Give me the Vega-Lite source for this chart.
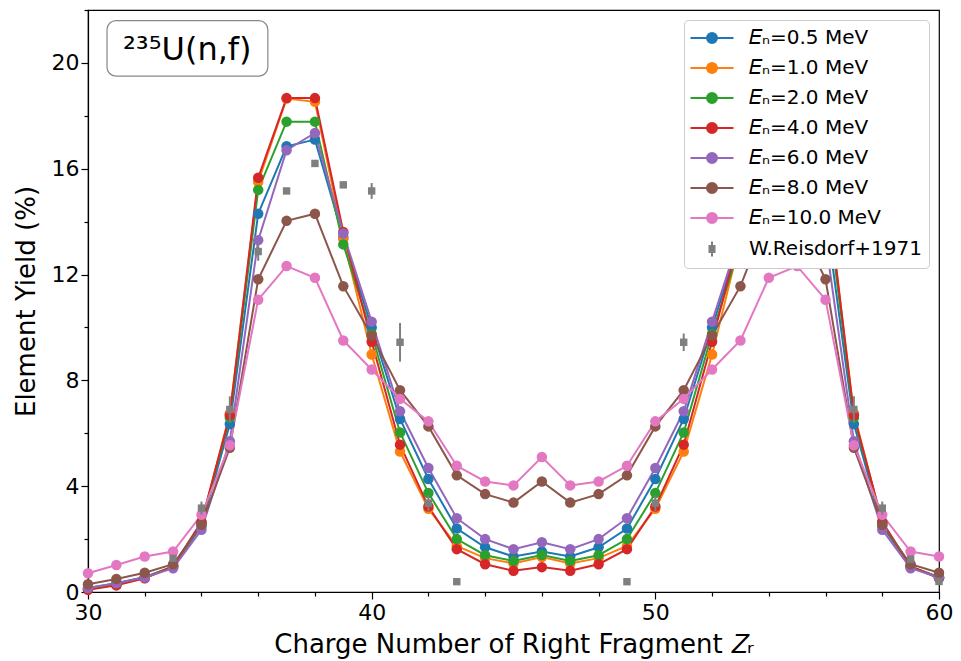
{
  "$schema": "https://vega.github.io/schema/vega-lite/v6.json",
  "width": 851,
  "height": 582,
  "autosize": {"type": "none"},
  "padding": {"left": 88, "top": 10, "right": 22, "bottom": 69},
  "config": {
    "font": "DejaVu Sans",
    "view": {"stroke": "#000", "strokeWidth": 1.2},
    "axis": {"grid": false, "domainColor": "#000", "tickColor": "#000", "labelColor": "#000", "titleColor": "#000", "labelFontSize": 22, "titleFontSize": 26, "titleFontWeight": "normal", "labelFont": "DejaVu Sans", "titleFont": "DejaVu Sans", "tickWidth": 1.2, "domainWidth": 1.2, "labelFlush": false}
  },
  "datasets": {
    "model": [
      {"Z":30,"E":"0.5","y":0.15},{"Z":31,"E":"0.5","y":0.33},{"Z":32,"E":"0.5","y":0.57},{"Z":33,"E":"0.5","y":0.95},{"Z":34,"E":"0.5","y":2.50},{"Z":35,"E":"0.5","y":6.35},{"Z":36,"E":"0.5","y":14.30},{"Z":37,"E":"0.5","y":16.85},{"Z":38,"E":"0.5","y":17.10},{"Z":39,"E":"0.5","y":13.40},{"Z":40,"E":"0.5","y":10.00},{"Z":41,"E":"0.5","y":6.54},{"Z":42,"E":"0.5","y":4.27},{"Z":43,"E":"0.5","y":2.40},{"Z":44,"E":"0.5","y":1.69},{"Z":45,"E":"0.5","y":1.34},{"Z":46,"E":"0.5","y":1.53},{"Z":47,"E":"0.5","y":1.34},{"Z":48,"E":"0.5","y":1.69},{"Z":49,"E":"0.5","y":2.40},{"Z":50,"E":"0.5","y":4.27},{"Z":51,"E":"0.5","y":6.54},{"Z":52,"E":"0.5","y":10.00},{"Z":53,"E":"0.5","y":13.40},{"Z":54,"E":"0.5","y":17.10},{"Z":55,"E":"0.5","y":16.85},{"Z":56,"E":"0.5","y":14.30},{"Z":57,"E":"0.5","y":6.35},{"Z":58,"E":"0.5","y":2.50},{"Z":59,"E":"0.5","y":0.95},{"Z":60,"E":"0.5","y":0.57},
      {"Z":30,"E":"1.0","y":0.10},{"Z":31,"E":"1.0","y":0.27},{"Z":32,"E":"1.0","y":0.53},{"Z":33,"E":"1.0","y":0.97},{"Z":34,"E":"1.0","y":2.60},{"Z":35,"E":"1.0","y":6.75},{"Z":36,"E":"1.0","y":15.50},{"Z":37,"E":"1.0","y":18.65},{"Z":38,"E":"1.0","y":18.53},{"Z":39,"E":"1.0","y":13.35},{"Z":40,"E":"1.0","y":8.98},{"Z":41,"E":"1.0","y":5.31},{"Z":42,"E":"1.0","y":3.15},{"Z":43,"E":"1.0","y":1.74},{"Z":44,"E":"1.0","y":1.28},{"Z":45,"E":"1.0","y":1.08},{"Z":46,"E":"1.0","y":1.32},{"Z":47,"E":"1.0","y":1.08},{"Z":48,"E":"1.0","y":1.28},{"Z":49,"E":"1.0","y":1.74},{"Z":50,"E":"1.0","y":3.15},{"Z":51,"E":"1.0","y":5.31},{"Z":52,"E":"1.0","y":8.98},{"Z":53,"E":"1.0","y":13.35},{"Z":54,"E":"1.0","y":18.53},{"Z":55,"E":"1.0","y":18.65},{"Z":56,"E":"1.0","y":15.50},{"Z":57,"E":"1.0","y":6.75},{"Z":58,"E":"1.0","y":2.60},{"Z":59,"E":"1.0","y":0.97},{"Z":60,"E":"1.0","y":0.53},
      {"Z":30,"E":"2.0","y":0.12},{"Z":31,"E":"2.0","y":0.30},{"Z":32,"E":"2.0","y":0.55},{"Z":33,"E":"2.0","y":0.97},{"Z":34,"E":"2.0","y":2.62},{"Z":35,"E":"2.0","y":6.60},{"Z":36,"E":"2.0","y":15.20},{"Z":37,"E":"2.0","y":17.78},{"Z":38,"E":"2.0","y":17.78},{"Z":39,"E":"2.0","y":13.14},{"Z":40,"E":"2.0","y":9.75},{"Z":41,"E":"2.0","y":6.03},{"Z":42,"E":"2.0","y":3.74},{"Z":43,"E":"2.0","y":2.00},{"Z":44,"E":"2.0","y":1.39},{"Z":45,"E":"2.0","y":1.17},{"Z":46,"E":"2.0","y":1.40},{"Z":47,"E":"2.0","y":1.17},{"Z":48,"E":"2.0","y":1.39},{"Z":49,"E":"2.0","y":2.00},{"Z":50,"E":"2.0","y":3.74},{"Z":51,"E":"2.0","y":6.03},{"Z":52,"E":"2.0","y":9.75},{"Z":53,"E":"2.0","y":13.14},{"Z":54,"E":"2.0","y":17.78},{"Z":55,"E":"2.0","y":17.78},{"Z":56,"E":"2.0","y":15.20},{"Z":57,"E":"2.0","y":6.60},{"Z":58,"E":"2.0","y":2.62},{"Z":59,"E":"2.0","y":0.97},{"Z":60,"E":"2.0","y":0.55},
      {"Z":30,"E":"4.0","y":0.08},{"Z":31,"E":"4.0","y":0.25},{"Z":32,"E":"4.0","y":0.52},{"Z":33,"E":"4.0","y":0.97},{"Z":34,"E":"4.0","y":2.65},{"Z":35,"E":"4.0","y":6.68},{"Z":36,"E":"4.0","y":15.66},{"Z":37,"E":"4.0","y":18.67},{"Z":38,"E":"4.0","y":18.67},{"Z":39,"E":"4.0","y":13.61},{"Z":40,"E":"4.0","y":9.46},{"Z":41,"E":"4.0","y":5.57},{"Z":42,"E":"4.0","y":3.23},{"Z":43,"E":"4.0","y":1.62},{"Z":44,"E":"4.0","y":1.05},{"Z":45,"E":"4.0","y":0.80},{"Z":46,"E":"4.0","y":0.94},{"Z":47,"E":"4.0","y":0.80},{"Z":48,"E":"4.0","y":1.05},{"Z":49,"E":"4.0","y":1.62},{"Z":50,"E":"4.0","y":3.23},{"Z":51,"E":"4.0","y":5.57},{"Z":52,"E":"4.0","y":9.46},{"Z":53,"E":"4.0","y":13.61},{"Z":54,"E":"4.0","y":18.67},{"Z":55,"E":"4.0","y":18.67},{"Z":56,"E":"4.0","y":15.66},{"Z":57,"E":"4.0","y":6.68},{"Z":58,"E":"4.0","y":2.65},{"Z":59,"E":"4.0","y":0.97},{"Z":60,"E":"4.0","y":0.52},
      {"Z":30,"E":"6.0","y":0.15},{"Z":31,"E":"6.0","y":0.33},{"Z":32,"E":"6.0","y":0.55},{"Z":33,"E":"6.0","y":0.90},{"Z":34,"E":"6.0","y":2.35},{"Z":35,"E":"6.0","y":5.70},{"Z":36,"E":"6.0","y":13.30},{"Z":37,"E":"6.0","y":16.70},{"Z":38,"E":"6.0","y":17.35},{"Z":39,"E":"6.0","y":13.55},{"Z":40,"E":"6.0","y":10.22},{"Z":41,"E":"6.0","y":6.83},{"Z":42,"E":"6.0","y":4.69},{"Z":43,"E":"6.0","y":2.79},{"Z":44,"E":"6.0","y":2.00},{"Z":45,"E":"6.0","y":1.62},{"Z":46,"E":"6.0","y":1.88},{"Z":47,"E":"6.0","y":1.62},{"Z":48,"E":"6.0","y":2.00},{"Z":49,"E":"6.0","y":2.79},{"Z":50,"E":"6.0","y":4.69},{"Z":51,"E":"6.0","y":6.83},{"Z":52,"E":"6.0","y":10.22},{"Z":53,"E":"6.0","y":13.55},{"Z":54,"E":"6.0","y":17.35},{"Z":55,"E":"6.0","y":16.70},{"Z":56,"E":"6.0","y":13.30},{"Z":57,"E":"6.0","y":5.70},{"Z":58,"E":"6.0","y":2.35},{"Z":59,"E":"6.0","y":0.90},{"Z":60,"E":"6.0","y":0.55},
      {"Z":30,"E":"8.0","y":0.29},{"Z":31,"E":"8.0","y":0.49},{"Z":32,"E":"8.0","y":0.73},{"Z":33,"E":"8.0","y":1.05},{"Z":34,"E":"8.0","y":2.54},{"Z":35,"E":"8.0","y":5.45},{"Z":36,"E":"8.0","y":11.82},{"Z":37,"E":"8.0","y":14.03},{"Z":38,"E":"8.0","y":14.30},{"Z":39,"E":"8.0","y":11.56},{"Z":40,"E":"8.0","y":9.70},{"Z":41,"E":"8.0","y":7.63},{"Z":42,"E":"8.0","y":6.26},{"Z":43,"E":"8.0","y":4.41},{"Z":44,"E":"8.0","y":3.70},{"Z":45,"E":"8.0","y":3.38},{"Z":46,"E":"8.0","y":4.18},{"Z":47,"E":"8.0","y":3.38},{"Z":48,"E":"8.0","y":3.70},{"Z":49,"E":"8.0","y":4.41},{"Z":50,"E":"8.0","y":6.26},{"Z":51,"E":"8.0","y":7.63},{"Z":52,"E":"8.0","y":9.70},{"Z":53,"E":"8.0","y":11.56},{"Z":54,"E":"8.0","y":14.30},{"Z":55,"E":"8.0","y":14.03},{"Z":56,"E":"8.0","y":11.82},{"Z":57,"E":"8.0","y":5.45},{"Z":58,"E":"8.0","y":2.54},{"Z":59,"E":"8.0","y":1.05},{"Z":60,"E":"8.0","y":0.73},
      {"Z":30,"E":"10.0","y":0.71},{"Z":31,"E":"10.0","y":1.02},{"Z":32,"E":"10.0","y":1.34},{"Z":33,"E":"10.0","y":1.53},{"Z":34,"E":"10.0","y":2.92},{"Z":35,"E":"10.0","y":5.55},{"Z":36,"E":"10.0","y":11.05},{"Z":37,"E":"10.0","y":12.32},{"Z":38,"E":"10.0","y":11.88},{"Z":39,"E":"10.0","y":9.51},{"Z":40,"E":"10.0","y":8.41},{"Z":41,"E":"10.0","y":7.30},{"Z":42,"E":"10.0","y":6.45},{"Z":43,"E":"10.0","y":4.77},{"Z":44,"E":"10.0","y":4.18},{"Z":45,"E":"10.0","y":4.03},{"Z":46,"E":"10.0","y":5.10},{"Z":47,"E":"10.0","y":4.03},{"Z":48,"E":"10.0","y":4.18},{"Z":49,"E":"10.0","y":4.77},{"Z":50,"E":"10.0","y":6.45},{"Z":51,"E":"10.0","y":7.30},{"Z":52,"E":"10.0","y":8.41},{"Z":53,"E":"10.0","y":9.51},{"Z":54,"E":"10.0","y":11.88},{"Z":55,"E":"10.0","y":12.32},{"Z":56,"E":"10.0","y":11.05},{"Z":57,"E":"10.0","y":5.55},{"Z":58,"E":"10.0","y":2.92},{"Z":59,"E":"10.0","y":1.53},{"Z":60,"E":"10.0","y":1.34}
    ],
    "exp": [
      {"Z":33,"y":1.27,"err":0.08},{"Z":34,"y":3.17,"err":0.25},{"Z":35,"y":6.90,"err":0.5},{"Z":36,"y":12.87,"err":0.35},{"Z":37,"y":15.16,"err":0.1},{"Z":38,"y":16.20,"err":0.1},{"Z":39,"y":15.39,"err":0.1},{"Z":40,"y":15.16,"err":0.3},{"Z":41,"y":9.44,"err":0.73},{"Z":42,"y":3.36,"err":0.3},{"Z":43,"y":0.39,"err":0.1},
      {"Z":49,"y":0.39,"err":0.1},{"Z":50,"y":3.36,"err":0.3},{"Z":51,"y":9.44,"err":0.33},{"Z":52,"y":15.16,"err":0.3},{"Z":53,"y":15.39,"err":0.1},{"Z":54,"y":16.20,"err":0.1},{"Z":55,"y":15.16,"err":0.1},{"Z":56,"y":12.87,"err":0.35},{"Z":57,"y":6.90,"err":0.5},{"Z":58,"y":3.17,"err":0.25},{"Z":59,"y":1.24,"err":0.08},{"Z":60,"y":0.40,"err":0.05}
    ],
    "note": [
      {"label": "²³⁵U(n,f)"}
    ]
  },
  "layer": [
    {
      "data": {"name": "model"},
      "mark": {"type": "line", "strokeWidth": 2},
      "encoding": {
        "x": {"field": "Z", "type": "quantitative", "scale": {"domain": [30, 60], "nice": false, "zero": false},
          "axis": {"title": "Charge Number of Right Fragment 𝑍ᵣ", "values": [30,31,32,33,34,35,36,37,38,39,40,41,42,43,44,45,46,47,48,49,50,51,52,53,54,55,56,57,58,59,60], "labelExpr": "datum.value % 5 === 0 ? datum.label : ''", "tickSize": {"condition": {"test": "datum.value % 5 === 0", "value": 7}, "value": 4}, "labelPadding": 3, "titlePadding": 8}},
        "y": {"field": "y", "type": "quantitative", "scale": {"domain": [0, 22], "nice": false},
          "axis": {"title": "Element Yield (%)", "values": [0,1,2,3,4,5,6,7,8,9,10,11,12,13,14,15,16,17,18,19,20,21,22], "labelExpr": "datum.value % 4 === 0 ? datum.label : ''", "tickSize": {"condition": {"test": "datum.value % 4 === 0", "value": 7}, "value": 4}, "labelPadding": 2, "titlePadding": 12}},
        "color": {"field": "E", "type": "nominal",
          "scale": {"domain": ["0.5","1.0","2.0","4.0","6.0","8.0","10.0","W.Reisdorf+1971"], "range": ["#1f77b4","#ff7f0e","#2ca02c","#d62728","#9467bd","#8c564b","#e377c2","#7f7f7f"]},
          "legend": {"title": null, "orient": "top-right", "offset": 10, "labelFontSize": 20, "labelFont": "DejaVu Sans", "labelColor": "#000", "labelLimit": 400, "fillColor": "white", "strokeColor": "#cccccc", "cornerRadius": 4, "padding": 7, "rowPadding": 9, "symbolSize": 400, "symbolOffset": 10, "labelOffset": 26,
            "labelExpr": "datum.label == 'W.Reisdorf+1971' ? datum.label : '𝐸ₙ=' + datum.label + ' MeV'",
            "encode": {"symbols": {"update": {
              "shape": {"signal": "datum.value == 'W.Reisdorf+1971' ? 'M0,-0.75L0,0.75M-0.25,-0.3L0.25,-0.3L0.25,0.3L-0.25,0.3Z' : 'M-2.15,0L2.15,0M-0.5,0A0.5,0.5,0,1,0,0.5,0A0.5,0.5,0,1,0,-0.5,0Z'"},
              "fill": {"signal": "scale('color', datum.value)"},
              "stroke": {"signal": "scale('color', datum.value)"},
              "strokeWidth": {"value": 2},
              "opacity": {"value": 1},
              "fillOpacity": {"value": 1},
              "strokeOpacity": {"value": 1},
              "size": {"value": 400}
            }}}}
        }
      }
    },
    {
      "data": {"name": "model"},
      "mark": {"type": "point", "filled": true, "size": 110, "opacity": 1},
      "encoding": {
        "x": {"field": "Z", "type": "quantitative"},
        "y": {"field": "y", "type": "quantitative", "title": "Element Yield (%)"},
        "color": {"field": "E", "type": "nominal"}
      }
    },
    {
      "data": {"name": "exp"},
      "mark": {"type": "errorbar", "ticks": false, "thickness": 2},
      "encoding": {
        "x": {"field": "Z", "type": "quantitative"},
        "y": {"field": "y", "type": "quantitative", "title": "Element Yield (%)"},
        "yError": {"field": "err"},
        "color": {"datum": "W.Reisdorf+1971"}
      }
    },
    {
      "data": {"name": "exp"},
      "mark": {"type": "point", "shape": "square", "filled": true, "size": 55, "opacity": 1},
      "encoding": {
        "x": {"field": "Z", "type": "quantitative"},
        "y": {"field": "y", "type": "quantitative", "title": "Element Yield (%)"},
        "color": {"datum": "W.Reisdorf+1971"}
      }
    },
    {
      "data": {"name": "note"},
      "mark": {"type": "rect", "fill": "white", "stroke": "#888888", "strokeWidth": 1.2, "cornerRadius": 9},
      "encoding": {"x": {"datum": 30.67}, "x2": {"datum": 36.34}, "y": {"datum": 21.6}, "y2": {"datum": 19.5}}
    },
    {
      "data": {"name": "note"},
      "mark": {"type": "text", "fontSize": 32, "font": "DejaVu Sans", "align": "center", "baseline": "middle", "color": "#000"},
      "encoding": {"x": {"datum": 33.5}, "y": {"datum": 20.5}, "text": {"field": "label"}}
    }
  ]
}
